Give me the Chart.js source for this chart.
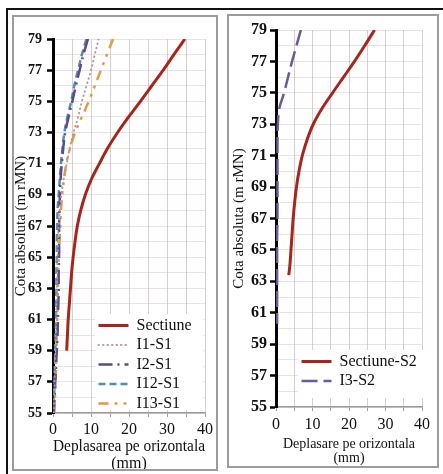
<!DOCTYPE html>
<html>
<head>
<meta charset="utf-8">
<script src="https://cdn.jsdelivr.net/npm/chart.js@4.4.1/dist/chart.umd.min.js"></script>
<style>
  body { margin: 0; background: #fff; width: 443px; height: 474px; overflow: hidden; position: relative; }
  #cadru { position: absolute; left: 6px; top: 8px; width: 450px; height: 480px; border-top: 2px solid #111; border-left: 2px solid #111; }
  .panou { position: absolute; border: 2px solid #9c9c9c; box-sizing: border-box; background: #fff; }
  .panou canvas { position: absolute; left: 0; top: 0; }
</style>
</head>
<body>
<div id="cadru"></div>
<div class="panou" style="left:12px; top:15px; width:206px; height:456px;">
  <canvas id="graficS1" width="202" height="452"></canvas>
</div>
<div class="panou" style="left:227px; top:14px; width:212px; height:454px;">
  <canvas id="graficS2" width="208" height="450"></canvas>
</div>

<script>
// --- Date sectiunea S1 (cota absoluta, deplasare in mm) ---
const cotaS1 = [79, 78, 77, 76, 75, 74, 73, 72, 71, 70, 69, 68, 67, 66, 65, 64, 63, 62, 61, 60, 59, 58, 57, 56, 55];
const sectiuneS1 = [34.7, 31.8, 29, 26, 23, 19.9, 17, 14.4, 12.2, 10.1, 8.5, 7.3, 6.4, 5.8, 5.3, 4.9, 4.6, 4.3, 4.0, 3.8, 3.6, null, null, null, null];
const i1S1 = [12, 11, 10, 8.8, 7.6, 6.6, 5.4, 4.4, 3.6, 2.8, 2.2, 1.8, 1.5, 1.3, 1.2, 1.1, 1.0, 0.9, 0.8, 0.7, 0.6, 0.5, 0.4, 0.3, 0.2];
const i2S1 = [9.2, 8.0, 7.0, 6.0, 5.1, 4.1, 3.2, 2.7, 2.3, 2.0, 1.8, 1.7, 1.6, 1.6, 1.6, 1.5, 1.5, 1.4, 1.3, 1.2, 1.0, 0.8, 0.6, 0.4, 0.2];
const i12S1 = [8.8, 7.6, 6.6, 5.6, 4.8, 3.8, 3.0, 2.5, 2.1, 1.8, 1.5, 1.2, 1.1, 1.0, 1.0, 0.9, 0.9, 0.8, 0.8, 0.7, 0.6, 0.5, 0.4, 0.3, 0.2];
const i13S1 = [15.8, 14.2, 12.6, 11, 9.4, 7.6, 5.8, 4.5, 3.5, 2.9, 2.4, 2.1, 1.9, 1.7, 1.5, 1.4, 1.3, 1.2, 1.1, 1.0, 0.9, 0.8, 0.7, 0.5, 0.3];

// --- Date sectiunea S2 ---
const cotaS2 = [79, 78, 77, 76, 75, 74, 73, 72, 71, 70, 69, 68, 67, 66, 65, 64, 63.4, 63, 62, 61, 60.3];
const sectiuneS2 = [27, 24.3, 21.5, 18.5, 15.5, 12.6, 10.2, 8.5, 7.2, 6.3, 5.6, 5.1, 4.7, 4.4, 4.1, 3.8, 3.5, null, null, null, null];
const i3S2 = [6.8, 5.6, 4.4, 3.3, 2.2, 0.9, 0.5, 0.4, 0.4, 0.4, 0.4, 0.4, 0.4, 0.3, 0.3, 0.3, 0.3, 0.3, 0.3, 0.3, 0.3];

// axe
const deplasareMin = 0, deplasareMax = 40, pasDeplasare = 5;
const cotaMin = 55, cotaMax = 79;

Chart.defaults.font.family = "'Liberation Serif', 'Times New Roman', serif";
Chart.defaults.color = '#111';

function puncte(xs, ys) {
    return xs.map((x, i) => ({ x: x, y: ys[i] })).filter(p => p.x !== null);
}

// legenda in interiorul graficului, pe fond alb
const legendaInterioara = {
    id: 'legendaInterioara',
    afterInit(chart) {
        const lg = chart.legend;
        const deseneaza = lg.draw.bind(lg);
        lg.draw = function () {
            const o = chart.options.plugins.legendaInterioara;
            const ctx = chart.ctx;
            ctx.save();
            ctx.fillStyle = '#fff';
            ctx.fillRect(o.x, o.y, o.w, o.h);
            ctx.restore();
            lg.left = o.x; lg.top = o.y;
            lg.right = o.x + o.w; lg.bottom = o.y + o.h + 30;
            deseneaza();
        };
    }
};

// etichetele legendei preiau stilul liniei (dash, grosime)
function eticheteLegenda(chart) {
    return Chart.defaults.plugins.legend.labels.generateLabels(chart).map(it => {
        const ds = chart.data.datasets[it.datasetIndex];
        return Object.assign(it, {
            lineDash: ds.borderDash,
            lineCap: ds.borderCapStyle,
            lineWidth: ds.borderWidth,
            strokeStyle: ds.borderColor
        });
    });
}

function grafic(id, seturi, cfg) {
    const ctx = document.getElementById(id).getContext('2d');
    return new Chart(ctx, {
        type: 'scatter',
        data: { datasets: seturi },
        options: {
            responsive: false,
            animation: false,
            layout: { padding: { top: cfg.sus, right: cfg.dreapta, left: 0, bottom: 0 } },
            plugins: {
                tooltip: { enabled: false },
                legend: {
                    position: 'chartArea',
                    align: 'start',
                    labels: {
                        usePointStyle: true,
                        pointStyle: 'line',
                        pointStyleWidth: cfg.lungimeLegenda,
                        padding: 3.5,
                        color: '#111',
                        font: { size: 16 },
                        generateLabels: eticheteLegenda
                    }
                },
                legendaInterioara: cfg.legenda
            },
            scales: {
                x: {
                    type: 'linear',
                    min: deplasareMin,
                    max: deplasareMax,
                    afterFit: s => { s.height = cfg.inaltimeX; },
                    ticks: {
                        stepSize: pasDeplasare,
                        autoSkip: false,
                        maxRotation: 0,
                        padding: cfg.paddingX,
                        font: { size: 16 },
                        callback: v => (v % 10 === 0 ? v : '')
                    },
                    grid: { color: 'rgba(185,155,155,0.5)', tickLength: 4, tickColor: '#a0a0a0' },
                    border: { color: '#9a9a9a', width: 1.5 },
                    title: {
                        display: true,
                        text: cfg.titluX,
                        font: { size: cfg.fontTitluX, lineHeight: 1.05 },
                        padding: { top: 0, bottom: cfg.paddingTitluX }
                    }
                },
                y: {
                    type: 'linear',
                    min: cotaMin,
                    max: cotaMax,
                    afterFit: s => { s.width = cfg.latimeY; },
                    ticks: {
                        stepSize: 1,
                        autoSkip: false,
                        padding: cfg.paddingY,
                        font: { size: cfg.fontY, weight: 'bold' },
                        callback: v => (v % 2 !== 0 ? v : '')
                    },
                    grid: {
                        color: 'rgba(205,185,185,0.4)',
                        tickLength: 6,
                        tickWidth: 2.5,
                        tickColor: c => (c.tick && c.tick.value % 2 !== 0 ? '#000' : 'rgba(0,0,0,0)')
                    },
                    border: { color: '#000', width: 3 },
                    title: {
                        display: true,
                        text: 'Cota absoluta (m rMN)',
                        font: { size: 15, lineHeight: 1 },
                        padding: { top: cfg.paddingTitluY, bottom: 0 }
                    }
                }
            }
        },
        plugins: [legendaInterioara]
    });
}

function linie(eticheta, xs, ys, culoare, grosime, dash, cap) {
    return {
        label: eticheta,
        data: puncte(xs, ys),
        showLine: true,
        borderColor: culoare,
        backgroundColor: culoare,
        borderWidth: grosime,
        borderDash: dash,
        borderCapStyle: cap || 'butt',
        pointRadius: 0,
        tension: 0.35
    };
}

grafic('graficS1', [
    linie('Sectiune', sectiuneS1, cotaS1, '#a4261c', 3, []),
    linie('I1-S1', i1S1, cotaS1, '#b39a9a', 2, [0.5, 4], 'round'),
    linie('I2-S1', i2S1, cotaS1, '#5b4b8a', 2.5, [14, 5, 2, 5]),
    linie('I12-S1', i12S1, cotaS1, '#4f8fb3', 2.5, [7, 4]),
    linie('I13-S1', i13S1, cotaS1, '#e39a46', 2.5, [10, 6, 3, 6, 3, 6])
], {
    sus: 22, dreapta: 11, inaltimeX: 56, latimeY: 39,
    paddingX: 3, paddingY: 5, fontY: 14, paddingTitluY: 0,
    titluX: ['Deplasarea pe orizontala', '(mm)'], fontTitluX: 16, paddingTitluX: -3,
    lungimeLegenda: 30,
    legenda: { x: 81, y: 297, w: 108, h: 96 }
});

grafic('graficS2', [
    linie('Sectiune-S2', sectiuneS2, cotaS2, '#a4261c', 3, []),
    linie('I3-S2', i3S2, cotaS2, '#6a5a9a', 2.5, [16, 6])
], {
    sus: 14, dreapta: 15, inaltimeX: 59, latimeY: 47,
    paddingX: 4, paddingY: 3, fontY: 16, paddingTitluY: 3,
    titluX: ['Deplasare pe orizontala', '(mm)'], fontTitluX: 14, paddingTitluX: 0,
    lungimeLegenda: 30,
    legenda: { x: 69, y: 334, w: 139, h: 48 }
});
</script>
</body>
</html>
